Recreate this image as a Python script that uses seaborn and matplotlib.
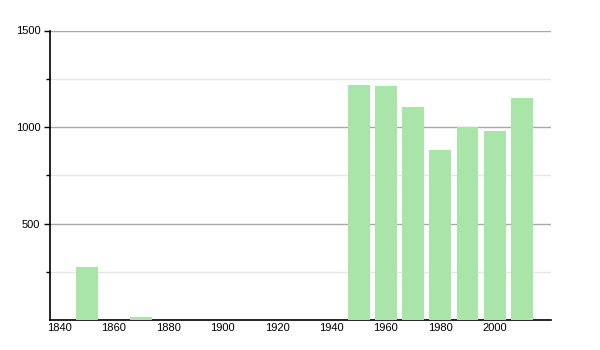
import matplotlib
matplotlib.use("Agg")
import matplotlib.pyplot as plt
import seaborn as sns
import pandas as pd
from matplotlib.ticker import FixedLocator

years = [1850, 1870, 1950, 1960, 1970, 1980, 1990, 2000, 2010]
population = [274, 14, 1220, 1214, 1104, 882, 1000, 977, 1152]
x_ticks = [1840, 1860, 1880, 1900, 1920, 1940, 1960, 1980, 2000]
y_ticks = [500, 1000, 1500]
y_minor = [250, 750, 1250]

sns.set_theme(style="white")
plt.rcParams['font.family'] = ['Liberation Sans', 'DejaVu Sans']

df = pd.DataFrame({"year": years, "pop": population})

fig = plt.figure(figsize=(6, 3.5), dpi=100)
ax = fig.add_axes([50/600, 1 - 320/350, 501/600, 289.5/350])

sns.barplot(data=df, x="year", y="pop", native_scale=True, color="#a9e4a9",
            saturation=1, width=0.8, ax=ax, zorder=3, linewidth=0, edgecolor="none")

ax.set_xlim(1836.5, 2020.7)
ax.set_ylim(0, 1500)
ax.xaxis.set_major_locator(FixedLocator(x_ticks))
ax.yaxis.set_major_locator(FixedLocator(y_ticks))
ax.yaxis.set_minor_locator(FixedLocator(y_minor))
ax.set_xlabel("")
ax.set_ylabel("")

ax.grid(axis="y", which="major", color="#a8a8a8", linewidth=1, zorder=1)
ax.grid(axis="y", which="minor", color="#e6e6e6", linewidth=1, zorder=1)
ax.set_axisbelow(True)

for s in ["top", "right"]:
    ax.spines[s].set_visible(False)
for s in ["left", "bottom"]:
    ax.spines[s].set_color("black")
    ax.spines[s].set_linewidth(1.2)

ax.tick_params(axis="y", which="major", left=True, length=4, width=1, color="black",
               labelsize=8, labelcolor="black", pad=3)
ax.tick_params(axis="y", which="minor", left=True, length=3, width=1, color="black")
ax.tick_params(axis="x", which="both", bottom=False, length=0, labelsize=8,
               labelcolor="black", pad=2)

fig.savefig("out.png", dpi=100)
